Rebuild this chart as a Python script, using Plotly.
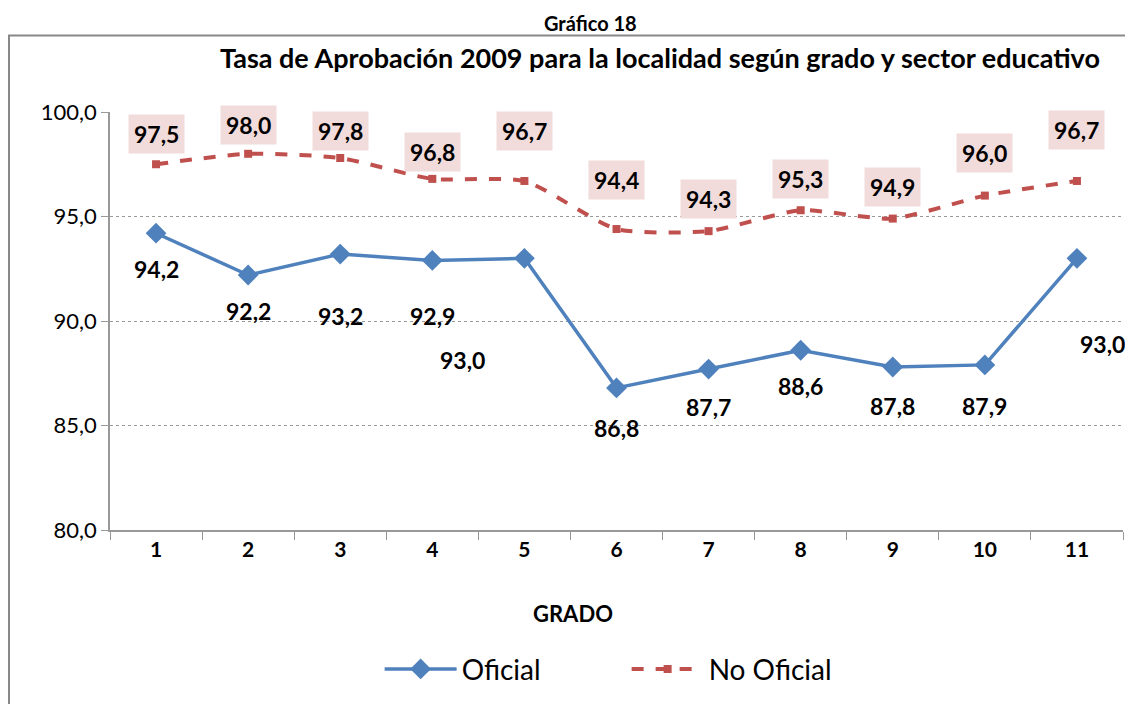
import plotly.graph_objects as go

grados = ["1", "2", "3", "4", "5", "6", "7", "8", "9", "10", "11"]
oficial = [94.2, 92.2, 93.2, 92.9, 93.0, 86.8, 87.7, 88.6, 87.8, 87.9, 93.0]
no_oficial = [97.5, 98.0, 97.8, 96.8, 96.7, 94.4, 94.3, 95.3, 94.9, 96.0, 96.7]

# label offsets in pixels (Excel's placement), layout only
of_dx = [0, 0, 0, 0, -62, 0, 0, 0, 0, 0, 26]
of_dy = [-36, -36, -62, -56, -102, -40, -38, -36, -39, -41, -86]
no_dy = [30, 29, 27, 27, 50, 49, 32, 31, 32, 43, 51]

BLUE = "#4F81BD"
RED = "#C0504D"
FONT = "Lato"

fig = go.Figure()
fig.add_trace(go.Scatter(
    x=grados, y=oficial, name="Oficial", mode="lines+markers",
    line=dict(color=BLUE, width=3.5),
    marker=dict(symbol="diamond", size=16, color=BLUE),
))
fig.add_trace(go.Scatter(
    x=grados, y=no_oficial, name="No Oficial", mode="lines+markers",
    line=dict(color=RED, width=4, dash="dash", shape="spline", smoothing=0.6),
    marker=dict(symbol="square", size=8, color=RED),
))

ann = []
for i, g in enumerate(grados):
    # category axis: annotations take the category index
    ann.append(dict(x=i, y=oficial[i], text=f"{oficial[i]:.1f}".replace(".", ","),
                    xshift=of_dx[i], yshift=of_dy[i], showarrow=False,
                    font=dict(size=23, color="black", family=FONT, weight="bold")))
    ann.append(dict(x=i, y=no_oficial[i], text=f"{no_oficial[i]:.1f}".replace(".", ","),
                    yshift=no_dy[i], showarrow=False, bgcolor="#F2DCDB", borderpad=5,
                    font=dict(size=23, color="black", family=FONT, weight="bold")))

ann.append(dict(xref="paper", yref="paper", x=0.474, y=1.214, text="Gráfico 18",
                xanchor="center", yanchor="middle", showarrow=False,
                font=dict(size=20, color="black", family=FONT, weight="bold")))
ann.append(dict(xref="paper", yref="paper", x=0.543, y=1.131,
                text="Tasa de Aprobación 2009 para la localidad según grado y sector educativo",
                xanchor="center", yanchor="middle", showarrow=False,
                font=dict(size=27, color="black", family=FONT, weight="bold")))
ann.append(dict(xref="paper", yref="paper", x=0.457, y=-0.2, text="GRADO",
                xanchor="center", yanchor="middle", showarrow=False,
                font=dict(size=22, color="black", family=FONT, weight="bold")))

# page body has an 8px margin, so shrink the figure by that much
fig.update_layout(
    width=1125, height=696,
    margin=dict(l=102, r=10, t=104, b=172),
    paper_bgcolor="white", plot_bgcolor="white",
    separators=",.",
    font=dict(family=FONT, color="black"),
    showlegend=True,
    legend=dict(orientation="h", x=0.51, xanchor="center", y=-0.333, yanchor="middle",
                font=dict(size=28, color="black", family=FONT), itemwidth=72,
                entrywidth=160, entrywidthmode="pixels", tracegroupgap=0),
    annotations=ann,
    shapes=[dict(type="rect", xref="paper", yref="paper", x0=-0.0997, x1=1.2,
                 y0=-0.6, y1=1.183, line=dict(color="#888888", width=2), layer="below")],
    xaxis=dict(type="category", range=[-0.5, 10.5], tickson="boundaries", ticks="outside",
               ticklen=8, tickcolor="#999999", showline=True, linecolor="#999999",
               linewidth=1.5, showgrid=False,
               tickfont=dict(size=21, color="black", family=FONT, weight="bold")),
    yaxis=dict(range=[80, 100], tickvals=[80, 85, 90, 95, 100], tickformat=".1f",
               ticks="outside", ticklen=7, tickcolor="#999999", showline=True,
               linecolor="#999999", linewidth=1.5, showgrid=True, gridcolor="#9a9a9a",
               griddash="dot", gridwidth=1, zeroline=False,
               tickfont=dict(size=22, color="black", family=FONT)),
)

fig.write_html("out.html")
